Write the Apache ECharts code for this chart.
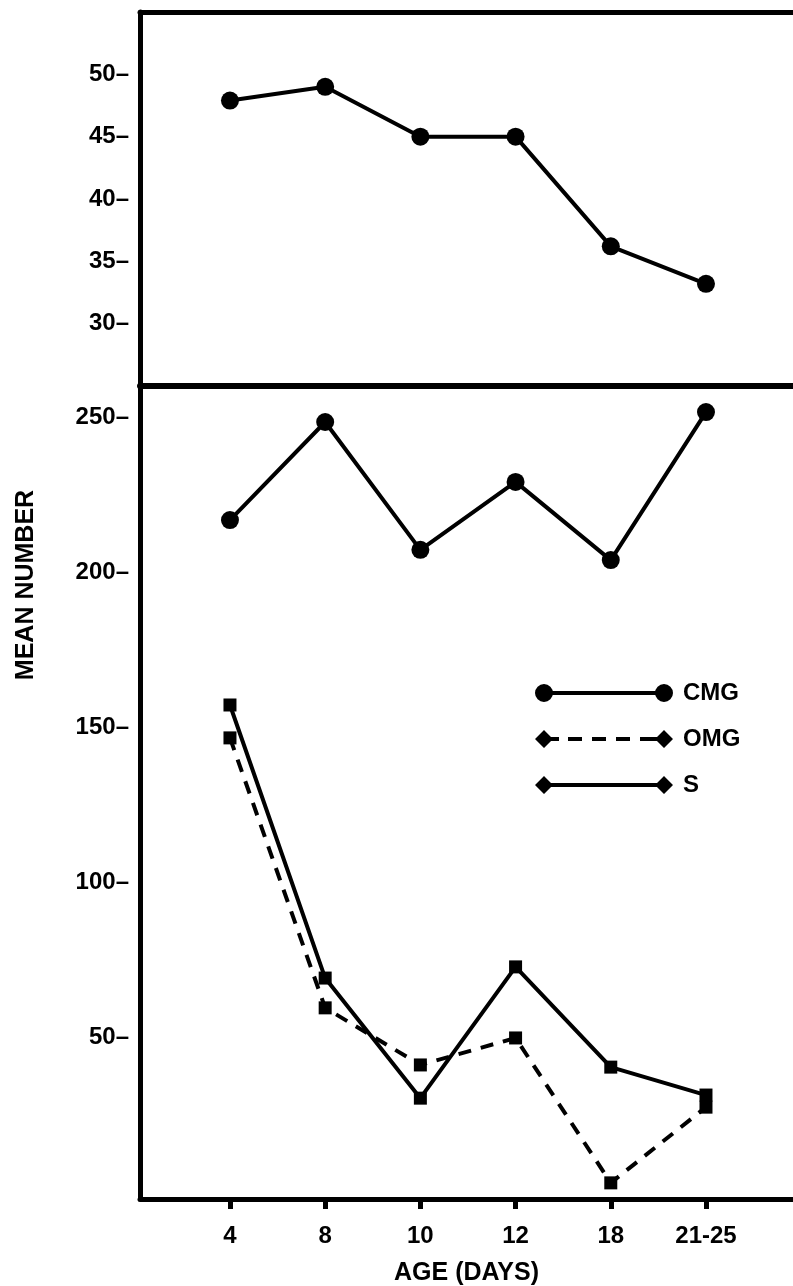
<!DOCTYPE html>
<html><head><meta charset="utf-8">
<script src="https://cdn.jsdelivr.net/npm/echarts@6/dist/echarts.min.js"></script>
<style>html,body{margin:0;padding:0;background:#fff}#c{width:793px;height:1286px}</style>
</head><body><div id="c"></div>
<script>
// ---- data ----
const ageCategories = ['4', '8', '10', '12', '18', '21-25'];
const cmgTop    = [47.9, 49.0, 45.0, 45.0, 36.2, 33.2];
const cmgBottom = [216.8, 248.4, 207.2, 229.1, 203.9, 251.6];
const omgBottom = [146.6, 59.6, 41.2, 49.9, 3.2, 27.6];
const sBottom   = [157.2, 69.2, 30.5, 72.8, 40.5, 31.5];
const topTickLabels    = [30, 35, 40, 45, 50];
const bottomTickLabels = [50, 100, 150, 200, 250];

const FONT = '"Liberation Sans", Arial, Helvetica, sans-serif';
const idx = ageCategories.map((c, i) => i);
const pairs = arr => arr.map((v, i) => [i, v]);

const labelStyle = { color: '#000', fontFamily: FONT, fontWeight: 'bold', fontSize: 24 };
const axisLineStyle = w => ({ show: true, onZero: false, lineStyle: { color: '#000', width: w } });

const circleIcon = cx => `M${cx - 9},9 A9,9 0 1,1 ${cx + 9},9 A9,9 0 1,1 ${cx - 9},9 Z`;
const diamondIcon = cx => `M${cx - 9},9 L${cx},0 L${cx + 9},9 L${cx},18 Z`;
const rectIcon = (a, b) => `M${a},7 L${b},7 L${b},11 L${a},11 Z`;
const cmgIcon = 'path://' + circleIcon(9) + ' ' + rectIcon(9, 129) + ' ' + circleIcon(129);
const sIcon = 'path://' + diamondIcon(9) + ' ' + rectIcon(9, 129) + ' ' + diamondIcon(129);
const omgIcon = 'path://' + diamondIcon(9) + ' ' + rectIcon(12, 24) + ' ' + rectIcon(33, 47) + ' ' +
  rectIcon(57, 71) + ' ' + rectIcon(81, 95) + ' ' + rectIcon(105, 126) + ' ' + diamondIcon(129);

const X_MIN = -0.945, X_MAX = 5.914;

const option = {
  animation: false,
  backgroundColor: '#fff',
  grid: [
    { left: 140, right: 0, top: 12, height: 374, outerBoundsMode: 'none', containLabel: false },
    { left: 140, right: 0, top: 386, bottom: 87, outerBoundsMode: 'none', containLabel: false }
  ],
  xAxis: [
    { type: 'value', gridIndex: 0, min: X_MIN, max: X_MAX, position: 'bottom',
      axisLine: axisLineStyle(6), axisTick: { show: false }, axisLabel: { show: false }, splitLine: { show: false } },
    { type: 'value', gridIndex: 0, min: X_MIN, max: X_MAX, position: 'top',
      axisLine: axisLineStyle(5), axisTick: { show: false }, axisLabel: { show: false }, splitLine: { show: false } },
    { type: 'value', gridIndex: 1, min: X_MIN, max: X_MAX, position: 'bottom',
      axisLine: axisLineStyle(5),
      axisTick: { show: true, customValues: idx, inside: false, length: 10, lineStyle: { color: '#000', width: 5 } },
      axisLabel: Object.assign({ customValues: idx, margin: 25, formatter: v => ageCategories[Math.round(v)] }, labelStyle),
      splitLine: { show: false },
      name: 'AGE (DAYS)', nameLocation: 'middle', nameGap: 62,
      nameTextStyle: { color: '#000', fontFamily: FONT, fontWeight: 'bold', fontSize: 25 } }
  ],
  yAxis: [
    { type: 'value', gridIndex: 0, min: 25, max: 55,
      axisLine: axisLineStyle(5), axisTick: { show: false }, splitLine: { show: false },
      axisLabel: Object.assign({ customValues: topTickLabels, margin: 11, formatter: '{value}\u2013' }, labelStyle) },
    { type: 'value', gridIndex: 1, min: -2, max: 260,
      axisLine: axisLineStyle(5), axisTick: { show: false }, splitLine: { show: false },
      axisLabel: Object.assign({ customValues: bottomTickLabels, margin: 11, formatter: '{value}\u2013' }, labelStyle) }
  ],
  legend: {
    orient: 'vertical', left: 535, top: 681, padding: 0,
    itemWidth: 138, itemHeight: 18, itemGap: 22, selectedMode: false,
    itemStyle: { color: '#000', borderWidth: 0 },
    textStyle: { color: '#000', fontFamily: FONT, fontWeight: 'bold', fontSize: 24, padding: [0, 0, 0, 5] },
    data: [
      { name: 'CMG', icon: cmgIcon },
      { name: 'OMG', icon: omgIcon },
      { name: 'S', icon: sIcon }
    ]
  },
  graphic: [{
    type: 'text', x: 26, y: 585, rotation: Math.PI / 2,
    style: { text: 'MEAN NUMBER', fill: '#000', font: 'bold 25px ' + FONT, textAlign: 'center', textVerticalAlign: 'middle' }
  }],
  series: [
    { name: 'CMG', type: 'line', xAxisIndex: 0, yAxisIndex: 0, data: pairs(cmgTop),
      symbol: 'circle', symbolSize: 18, itemStyle: { color: '#000', borderWidth: 0 },
      lineStyle: { color: '#000', width: 4 } },
    { name: 'CMG', type: 'line', xAxisIndex: 2, yAxisIndex: 1, data: pairs(cmgBottom),
      symbol: 'circle', symbolSize: 18, itemStyle: { color: '#000', borderWidth: 0 },
      lineStyle: { color: '#000', width: 4 } },
    { name: 'OMG', type: 'line', xAxisIndex: 2, yAxisIndex: 1, data: pairs(omgBottom),
      symbol: 'rect', symbolSize: 13, itemStyle: { color: '#000', borderWidth: 0 },
      lineStyle: { color: '#000', width: 4, type: [13, 10] } },
    { name: 'S', type: 'line', xAxisIndex: 2, yAxisIndex: 1, data: pairs(sBottom),
      symbol: 'rect', symbolSize: 13, itemStyle: { color: '#000', borderWidth: 0 },
      lineStyle: { color: '#000', width: 4 } }
  ]
};

const chart = echarts.init(document.getElementById('c'), null, { renderer: 'canvas' });
chart.setOption(option);
</script>
</body></html>
